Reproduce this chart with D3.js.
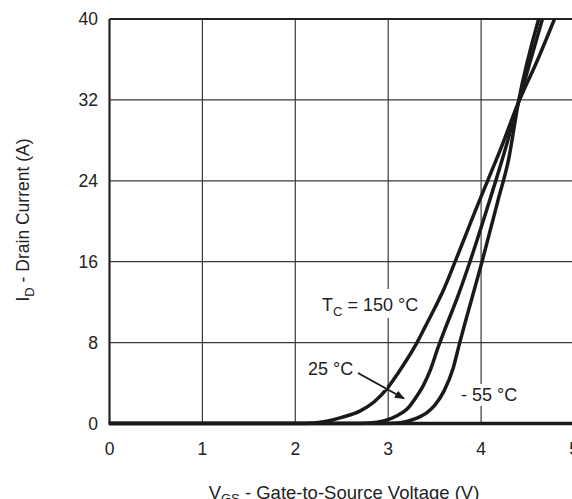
<!DOCTYPE html>
<html>
<head>
<meta charset="utf-8">
<script src="https://cdn.jsdelivr.net/npm/d3@7"></script>
<style>
  body { margin: 0; background: #fff; }
  svg { display: block; }
  text { font-family: "Liberation Sans", Arial, sans-serif; fill: #222; }
</style>
</head>
<body>
<svg id="chart" width="572" height="499"></svg>
<script>
// tick values
let x_ticks = [0, 1, 2, 3, 4, 5];
let y_ticks = [0, 8, 16, 24, 32, 40];

// transfer curves, [V_GS, I_D]
let curve_150 = [[0, 0], [2.0, 0], [2.2, 0.05], [2.35, 0.25], [2.5, 0.6], [2.7, 1.25], [2.85, 2.15],
    [3.0, 3.6], [3.1, 4.9], [3.2, 6.3], [3.31, 8.0], [3.4, 9.6], [3.5, 11.4], [3.6, 13.3],
    [3.72, 16.0], [3.85, 19.0], [3.98, 22.0], [4.07, 24.0], [4.2, 26.9], [4.4, 31.7],
    [4.61, 36.0], [4.79, 40.0]];
let curve_25 = [[0, 0], [2.6, 0], [2.8, 0.05], [2.95, 0.25], [3.1, 0.8], [3.2, 1.4], [3.3, 2.6],
    [3.38, 3.8], [3.45, 5.2], [3.54, 7.6], [3.61, 9.3], [3.75, 12.6], [3.88, 16.0],
    [4.09, 22.0], [4.25, 26.8], [4.4, 31.7], [4.66, 40.0]];
let curve_m55 = [[0, 0], [2.9, 0], [3.1, 0.05], [3.2, 0.2], [3.3, 0.5], [3.42, 1.1], [3.5, 1.8],
    [3.6, 3.2], [3.7, 5.5], [3.77, 8.0], [3.85, 10.7], [4.01, 16.0], [4.18, 22.0],
    [4.3, 26.3], [4.4, 31.7], [4.62, 40.0]];

let svg = d3.select("#chart");
let x = d3.scaleLinear().domain([0, 5]).range([109.5, 574]);
let y = d3.scaleLinear().domain([0, 40]).range([423.5, 19]);

// grid
svg.append("g")
    .selectAll("line")
    .data(x_ticks.slice(1))
    .join("line")
    .attr("x1", d => x(d)).attr("x2", d => x(d))
    .attr("y1", y(40)).attr("y2", y(0))
    .attr("stroke", "#3a3a3a").attr("stroke-width", 1.2);
svg.append("g")
    .selectAll("line")
    .data(y_ticks.slice(1, -1))
    .join("line")
    .attr("x1", x(0)).attr("x2", x(5))
    .attr("y1", d => y(d)).attr("y2", d => y(d))
    .attr("stroke", "#3a3a3a").attr("stroke-width", 1.2);

// frame
svg.append("line").attr("x1", x(0)).attr("x2", x(5)).attr("y1", y(40)).attr("y2", y(40))
    .attr("stroke", "#222").attr("stroke-width", 2.2);
svg.append("line").attr("x1", x(0)).attr("x2", x(0)).attr("y1", y(40)).attr("y2", y(0))
    .attr("stroke", "#222").attr("stroke-width", 2.2);
svg.append("line").attr("x1", x(0) - 1).attr("x2", x(5)).attr("y1", y(0)).attr("y2", y(0))
    .attr("stroke", "#1a1a1a").attr("stroke-width", 3.4);

// tick labels
svg.append("g")
    .selectAll("text")
    .data(x_ticks)
    .join("text")
    .attr("x", d => x(d)).attr("y", 455)
    .attr("text-anchor", "middle")
    .style("font-size", "17.5px")
    .text(d => d);
svg.append("g")
    .selectAll("text")
    .data(y_ticks)
    .join("text")
    .attr("x", 98).attr("y", d => y(d) + 6.3)
    .attr("text-anchor", "end")
    .style("font-size", "17.5px")
    .text(d => d);

// white boxes behind the in-plot labels
svg.append("rect").attr("x", 352).attr("y", 289).attr("width", 50).attr("height", 29).attr("fill", "#fff");
svg.append("rect").attr("x", 459).attr("y", 384).attr("width", 62).attr("height", 22).attr("fill", "#fff");

// curves
let line = d3.line()
    .x(d => x(d[0]))
    .y(d => y(d[1]))
    .curve(d3.curveMonotoneX);
svg.append("defs").append("clipPath").attr("id", "plot_clip")
    .append("rect").attr("x", x(0)).attr("y", y(40)).attr("width", x(5) - x(0)).attr("height", y(0) - y(40) + 2);
svg.append("g")
    .attr("clip-path", "url(#plot_clip)")
    .selectAll("path")
    .data([curve_150, curve_25, curve_m55])
    .join("path")
    .attr("d", line)
    .attr("fill", "none")
    .attr("stroke", "#1a1a1a")
    .attr("stroke-width", 3.5)
    .attr("stroke-linejoin", "round");
// gap in the 150 curve where the arrow crosses
svg.append("circle").attr("cx", 383).attr("cy", 386).attr("r", 4).attr("fill", "#fff");

// curve labels
let t150 = svg.append("text").attr("x", 322).attr("y", 311).style("font-size", "18px");
t150.append("tspan").text("T");
t150.append("tspan").attr("dy", 4.5).style("font-size", "13px").text("C");
t150.append("tspan").attr("dy", -4.5).text(" = 150 °C");

svg.append("text").attr("x", 308).attr("y", 375).style("font-size", "18px").text("25 °C");
svg.append("defs").append("marker")
    .attr("id", "arrow_head")
    .attr("viewBox", "0 0 10 10")
    .attr("refX", 9).attr("refY", 5)
    .attr("markerWidth", 5).attr("markerHeight", 5)
    .attr("markerUnits", "strokeWidth")
    .attr("orient", "auto")
    .append("path").attr("d", "M0,1 L10,5 L0,9 Z").attr("fill", "#1a1a1a");
svg.append("line")
    .attr("x1", 358).attr("y1", 373).attr("x2", 404).attr("y2", 398.5)
    .attr("stroke", "#1a1a1a").attr("stroke-width", 2)
    .attr("marker-end", "url(#arrow_head)");

svg.append("text").attr("x", 461).attr("y", 401).style("font-size", "18px").text("- 55 °C");

// axis titles
let xt = svg.append("text").attr("x", 344).attr("y", 498.5)
    .attr("text-anchor", "middle").style("font-size", "18.5px");
xt.append("tspan").text("V");
xt.append("tspan").attr("dy", 4.5).style("font-size", "13px").text("GS");
xt.append("tspan").attr("dy", -4.5).text(" - Gate-to-Source Voltage (V)");

let yt = svg.append("text")
    .attr("transform", "translate(29,220) rotate(-90)")
    .attr("text-anchor", "middle").style("font-size", "17.5px");
yt.append("tspan").text("I");
yt.append("tspan").attr("dy", 4.5).style("font-size", "13px").text("D");
yt.append("tspan").attr("dy", -4.5).text(" - Drain Current  (A)");
</script>
</body>
</html>
